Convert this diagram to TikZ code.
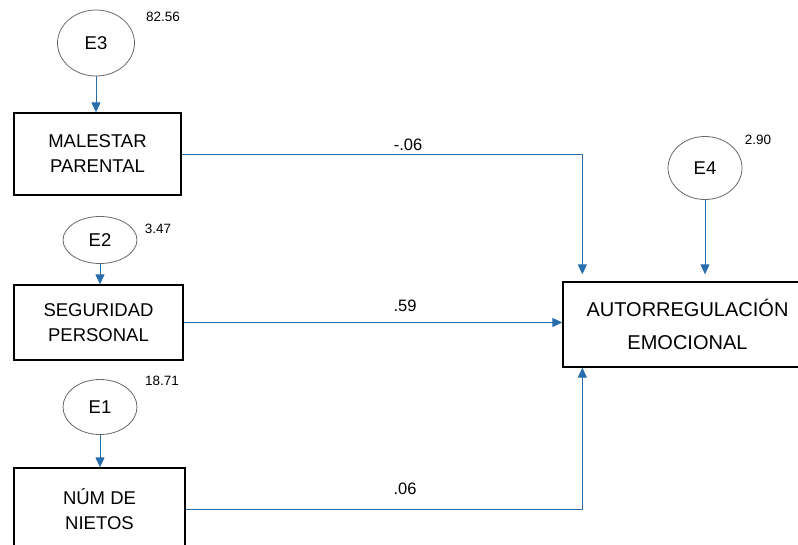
\documentclass[tikz,border=0pt]{standalone}
\usepackage{fontspec}
\setmainfont{Liberation Sans}
\usetikzlibrary{arrows.meta,positioning,shapes.geometric}
\definecolor{PathBlue}{RGB}{40,110,172}
\definecolor{ErrGray}{RGB}{105,105,105}

\begin{document}
\begin{tikzpicture}[x=1pt, y=-1pt,
    var/.style={draw=black, line width=1.3pt, align=center, inner sep=0pt,
      font=\fontsize{18.5}{25}\selectfont},
    err/.style={draw=ErrGray, line width=0.8pt, ellipse, inner sep=0pt,
      font=\fontsize{18.5}{20}\selectfont},
    path/.style={draw=PathBlue, line width=1pt, -{Triangle[width=9pt,length=10pt]}},
    coef/.style={font=\fontsize{16.5}{18}\selectfont},
    varlbl/.style={font=\fontsize{13.5}{15}\selectfont}
  ]
    \useasboundingbox (0,0) rectangle (798,544);

    % error terms
    \node[err, minimum width=77pt, minimum height=66pt] (e3) at (96,43) {E3};
    \node[err, minimum width=74pt, minimum height=47pt] (e2) at (100,240) {E2};
    \node[err, minimum width=74pt, minimum height=55pt] (e1) at (100,407) {E1};
    \node[err, minimum width=74pt, minimum height=63pt] (e4) at (705,168) {E4};
    \node[varlbl] (v3) at (163,17) {82.56};
    \node[varlbl] (v2) at (158,229) {3.47};
    \node[varlbl] (v1) at (162,381) {18.71};
    \node[varlbl] (v4) at (758,140) {2.90};

    % observed variables
    \node[var, minimum width=167pt, minimum height=82pt] (malestar) at (97.5,154) {MALESTAR\\PARENTAL};
    \node[var, minimum width=169pt, minimum height=75pt] (seguridad) at (98.5,322.5) {SEGURIDAD\\PERSONAL};
    \node[var, minimum width=171pt, minimum height=82pt] (nietos) at (99.5,509) {NÚM DE\\NIETOS};
    \node[var, minimum width=249pt, minimum height=85pt,
      font=\fontsize{20}{33}\selectfont] (autorreg) at (687.5,324.5) {AUTORREGULACIÓN\\EMOCIONAL};

    % paths
    \draw[path] (e3.south) -- (e3.south |- malestar.north);
    \draw[path] (e2.south) -- (e2.south |- seguridad.north);
    \draw[path] (e1.south) -- (e1.south |- nietos.north);
    \draw[path, shorten >=7pt] (e4.south) -- (e4.south |- autorreg.north);
    \draw[path, shorten >=7pt] (malestar.east) -| ([xshift=20pt]autorreg.north west);
    \draw[path] (seguridad.east) -- (seguridad.east -| autorreg.west);
    \draw[path] (nietos.east) -| ([xshift=20pt]autorreg.south west);

    % coefficients
    \node[coef] (c1) at (408,145) {-.06};
    \node[coef] (c2) at (405,306) {.59};
    \node[coef] (c3) at (405,489) {.06};
\end{tikzpicture}
\end{document}
